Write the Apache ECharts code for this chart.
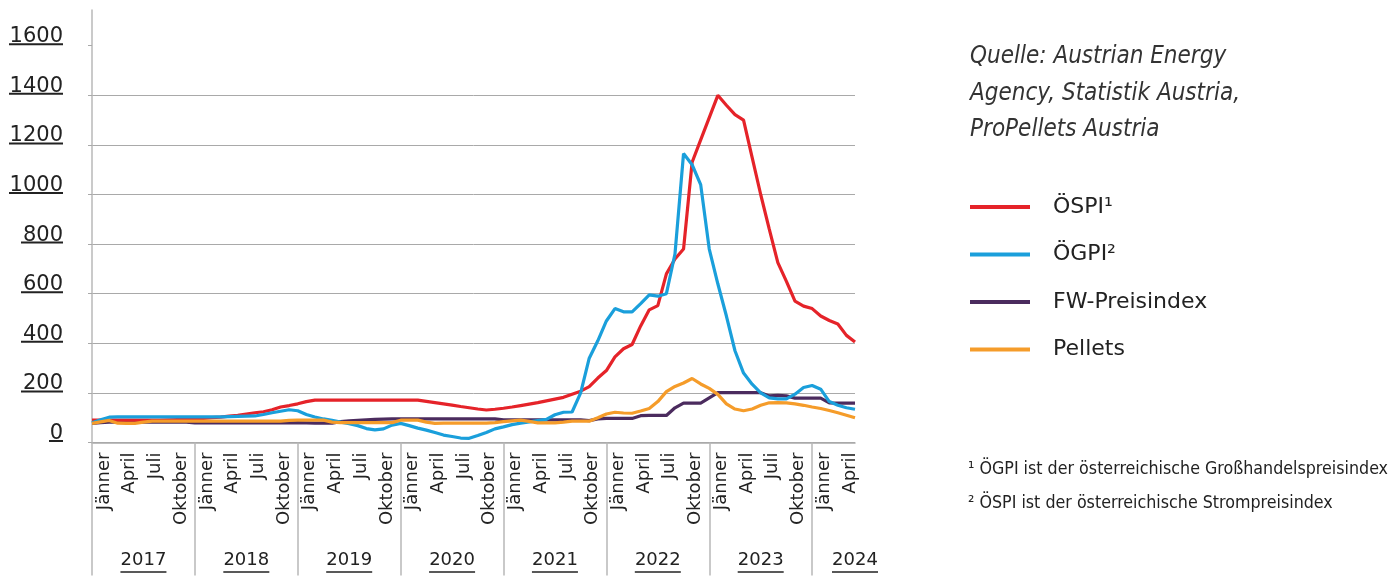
<!DOCTYPE html>
<html>
<head>
<meta charset="utf-8">
<script src="https://cdn.jsdelivr.net/npm/echarts@6/dist/echarts.min.js"></script>
<style>
html,body{margin:0;padding:0;background:#fff;}
#c{width:1394px;height:578px;}
</style>
</head>
<body>
<div id="c"></div>
<script>
// ---- data ----
const years = ['2017','2018','2019','2020','2021','2022','2023','2024'];
const monthNames = ['Jänner','Februar','März','April','Mai','Juni','Juli','August','September','Oktober','November','Dezember'];
const shownMonths = ['Jänner','April','Juli','Oktober'];
const monthCount = 90; // Jänner 2017 – Juni 2024
const yTicks = [0,200,400,600,800,1000,1200,1400,1600];

const ospi = [
  90,90,90,90,90,90,90,90,90,91,92,93,
  94,97,100,102,106,110,115,120,124,132,143,149,
  156,165,171,171,171,171,171,171,171,171,171,171,
  171,171,171,166,161,156,151,145,140,135,131,134,
  138,143,149,155,161,168,175,182,195,207,225,260,
  290,345,378,395,470,535,552,680,740,780,1130,1220,
  1310,1400,1360,1322,1300,1150,1000,860,725,650,570,550,
  540,510,492,478,432,405
];
const ogpi = [
  80,92,102,103,103,103,103,103,103,103,103,103,
  103,103,103,103,104,105,106,107,113,120,126,132,
  128,113,103,95,89,82,76,68,56,51,55,70,
  77,68,58,50,40,30,24,18,17,28,40,55,
  63,72,78,83,88,93,112,122,123,200,340,410,
  490,540,527,527,560,595,590,600,760,1165,1120,1040,
  780,640,510,370,280,235,200,180,176,176,195,222,
  230,215,165,150,140,134
];
const fw = [
  77,80,82,82,82,82,82,82,82,82,82,82,
  79,79,79,79,79,79,79,79,79,79,79,79,
  80,79,78,78,78,84,87,89,91,93,94,95,
  95,95,95,95,95,95,95,95,95,95,95,95,
  91,91,91,91,91,91,91,91,91,91,88,95,
  97,97,97,97,108,109,109,109,140,159,159,159,
  180,201,201,201,201,201,201,188,190,188,179,179,
  179,179,160,159,159,159
];
const pellets = [
  77,83,89,78,77,77,82,86,86,86,86,86,
  86,86,86,86,86,86,86,86,86,86,86,89,
  90,90,90,90,82,80,80,80,80,80,80,80,
  90,90,90,82,77,78,78,78,78,78,78,80,
  84,87,90,85,79,79,79,82,86,86,86,100,
  115,122,119,118,127,137,165,205,226,240,258,236,
  218,194,156,135,128,135,150,160,161,160,156,150,
  143,137,129,120,110,100
];
const seriesNames = ['ÖSPI¹','ÖGPI²','FW-Preisindex','Pellets'];
const sourceLines = ['Quelle: Austrian Energy','Agency, Statistik Austria,','ProPellets Austria'];
const footnotes = ['¹ ÖGPI ist der österreichische Großhandelspreisindex','² ÖSPI ist der österreichische Strompreisindex'];

// ---- categories ----
const months = [];
for (let i = 0; i < monthCount; i++) {
  months.push(monthNames[i % 12] + ' ' + years[Math.floor(i / 12)]);
}

const colors = ['#e52329','#1a9fdb','#4b2b5e','#f59c2a'];
const FONT = 'DejaVu Sans';
const TXT = '#222222';
const GRID_C = '#a9a9a9';

const chart = echarts.init(document.getElementById('c'), null, {renderer:'canvas'});

const option = {
  animation: false,
  backgroundColor: '#ffffff',
  title: [
    {
      text: sourceLines.join('\n'),
      left: 965, top: 34,
      textStyle: {fontFamily: 'DejaVu Sans Condensed', fontStyle: 'italic', fontWeight: 'normal',
        fontSize: 24, lineHeight: 36.5, color: '#333333'}
    },
    {
      text: footnotes.join('\n'),
      left: 963, top: 447,
      textStyle: {fontFamily: 'DejaVu Sans Condensed', fontWeight: 'normal',
        fontSize: 17.7, lineHeight: 34, color: TXT}
    }
  ],
  legend: {
    orient: 'vertical',
    left: 970, top: 194,
    itemWidth: 60, itemHeight: 4, itemGap: 21.5,
    icon: 'rect',
    padding: 0,
    textStyle: {fontFamily: FONT, fontSize: 22, color: TXT, lineHeight: 26, padding: [0,0,0,18]},
    data: seriesNames
  },
  grid: {left: 92, right: 539, top: 10, bottom: 133, containLabel: false},
  xAxis: [
    {
      type: 'category', data: months, boundaryGap: false, position: 'bottom',
      axisLine: {show: true, lineStyle: {color: GRID_C, width: 1.5}},
      axisTick: {show: true, interval: (i) => i % 12 === 0, length: 133, lineStyle: {color: '#b8b8b8', width: 1.5}},
      axisLabel: {
        show: true, rotate: 90, margin: 10,
        interval: (i, v) => shownMonths.indexOf(v.split(' ')[0]) >= 0,
        formatter: (v) => v.split(' ')[0],
        verticalAlign: 'top', padding: [3,0,0,0],
        fontFamily: FONT, fontSize: 18, color: TXT
      },
      splitLine: {show: false}
    },
    {
      type: 'category', data: months, boundaryGap: false, position: 'bottom', offset: 100,
      axisLine: {show: false}, axisTick: {show: false},
      axisLabel: {
        show: true, margin: 8,
        interval: (i) => i % 12 === 6 || i === monthCount - 1,
        formatter: (v) => '{t|' + v.split(' ')[1] + '}\n{u|}',
        rich: {
          t: {fontFamily: FONT, fontSize: 18, color: TXT, lineHeight: 20, align: 'center'},
          u: {width: 46, height: 1.5, lineHeight: 3, backgroundColor: TXT, align: 'center'}
        }
      },
      splitLine: {show: false}
    }
  ],
  yAxis: {
    type: 'value', min: 0, max: 1744, interval: 200,
    axisLine: {show: true, lineStyle: {color: '#b8b8b8', width: 1.5}},
    axisTick: {show: true, length: 4, customValues: yTicks, lineStyle: {color: GRID_C, width: 1}},
    splitLine: {show: true, showMaxLine: false, lineStyle: {color: GRID_C, width: 1}},
    axisLabel: {
      show: true, margin: 29, customValues: yTicks, verticalAlign: 'bottom',
      formatter: (v) => '{t|' + v + '}\n{u' + String(v).length + '|}',
      rich: {
        t: {fontFamily: FONT, fontSize: 21, color: TXT, lineHeight: 12, align: 'right'},
        u1: {width: 14, height: 2, lineHeight: 3, backgroundColor: TXT, align: 'right'},
        u3: {width: 42, height: 2, lineHeight: 3, backgroundColor: TXT, align: 'right'},
        u4: {width: 54, height: 2, lineHeight: 3, backgroundColor: TXT, align: 'right'}
      }
    }
  },
  series: [
    {name: seriesNames[0], type: 'line', data: ospi, symbol: 'none', lineStyle: {width: 3.2, color: colors[0]}, itemStyle: {color: colors[0]}, z: 3},
    {name: seriesNames[1], type: 'line', data: ogpi, symbol: 'none', lineStyle: {width: 3.2, color: colors[1]}, itemStyle: {color: colors[1]}, z: 4},
    {name: seriesNames[2], type: 'line', data: fw, symbol: 'none', lineStyle: {width: 3.2, color: colors[2]}, itemStyle: {color: colors[2]}, z: 2},
    {name: seriesNames[3], type: 'line', data: pellets, symbol: 'none', lineStyle: {width: 3.2, color: colors[3]}, itemStyle: {color: colors[3]}, z: 5}
  ]
};
chart.setOption(option);
</script>
</body>
</html>
